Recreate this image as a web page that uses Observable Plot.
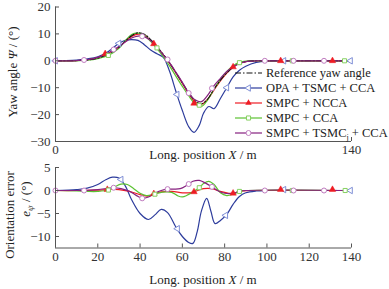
<!DOCTYPE html>
<html><head><meta charset="utf-8">
<script src="https://cdn.jsdelivr.net/npm/d3@7"></script>
<script src="https://cdn.jsdelivr.net/npm/@observablehq/plot@0.6"></script>
<style>
body{margin:0;background:#fff}
#wrap{position:relative;width:389px;height:289px;font-family:"Liberation Serif","Times New Roman",serif}
#wrap svg{position:absolute;left:0;top:0;overflow:visible}
</style></head><body><div id="wrap"></div>
<script>
// ---------- data (x = longitudinal position in m) ----------
const yawTicks = [-30, -20, -10, 0, 10, 20];
const errTicks = [-10, -5, 0, 5];
const xTicksTop = [0, 140];
const xTicksBottom = [0, 20, 40, 60, 80, 100, 120, 140];

const seriesNames = ["Reference yaw angle", "OPA + TSMC + CCA", "SMPC + NCCA", "SMPC + CCA", "SMPC + TSMC_j + CCA"];

// Yaw angle (deg)
const yawRef = [[0,0],[5,0],[10,0.1],[15,0.3],[20,1],[25,2.5],[30,5],[33,7.3],[36,9.3],[39,10.4],[42,9.9],[45,7.9],[48,5.3],[51,2.4],[54,-0.8],[57,-4.5],[60,-8.2],[63,-11.8],[66,-14.8],[69,-16],[72,-14.2],[75,-10.5],[78,-7.2],[81,-4.5],[84,-2.4],[87,-1],[90,-0.3],[95,0],[100,0],[140,0]];
const yawOPA = [[0,0],[5,0.1],[10,0.3],[15,0.7],[20,1.5],[25,3.5],[30,6.5],[33,7.6],[36,7.9],[39,7.6],[42,6],[45,4],[48,2.6],[51,1.3],[54,-4],[57,-11.5],[60,-18.5],[63,-24.5],[65.5,-26.6],[68,-24],[70,-19.5],[72.5,-17],[75,-17.8],[78,-14],[81,-10],[84,-6],[87,-3.5],[90,-2],[95,-0.6],[100,-0.1],[110,0],[140,0]];
const yawNCCA = [[0,0],[5,0],[10,0.1],[15,0.4],[20,1.2],[25,2.8],[30,5],[33,7.2],[36,9],[39,9.9],[42,9.6],[45,7.5],[48,5],[51,2.2],[54,-1],[57,-4.6],[60,-8.4],[63,-12.3],[66,-15.3],[69,-16.2],[72,-14.3],[75,-10.8],[78,-7.5],[81,-4.6],[84,-2.3],[87,-1],[90,-0.3],[95,0],[100,0],[140,0]];
const yawCCA = [[0,0],[5,0],[10,0],[15,0.2],[20,0.8],[25,2],[30,4.6],[33,7.5],[36,9.8],[39,10.3],[42,9.5],[45,7.2],[48,4.5],[51,1.5],[54,-2],[57,-5.8],[60,-9.5],[63,-13],[66,-16],[69,-17],[72,-14.5],[75,-10.5],[78,-7],[81,-4],[84,-1.8],[87,-0.6],[90,-0.1],[95,0],[100,0],[140,0]];
const yawTSMC = [[0,0],[5,0],[10,0.1],[15,0.4],[20,1.3],[25,2.9],[30,5.3],[33,7],[36,8.5],[39,9.2],[42,9],[45,7.5],[48,5],[51,2.2],[54,-0.8],[57,-4.3],[60,-8],[63,-12],[66,-14.5],[69,-15.2],[72,-12.8],[75,-9.2],[78,-6.5],[81,-4],[84,-2.2],[87,-1],[90,-0.3],[95,0],[100,0],[140,0]];

const yawOPAMarks = [[0,0],[30,6.5],[57.5,-12.5],[81,-10],[108,0],[139.5,0]];
const yawNCCAMarks = [[23.5,2.6],[46.5,6.3],[65.5,-15.8],[84,-2.3],[106.5,0],[131,0]];
const yawCCAMarks = [[25,2],[48,4.8],[68,-16.5],[87,-0.7],[112,0],[136.7,0]];
const yawTSMCMarks = [[0,0],[13.5,0.3],[27.5,4.2],[41,9.1],[53,0.5],[63,-12],[74,-10.2],[99,0],[112.6,0],[127,0]];

// Orientation error (deg)
const errOPA = [[0,0],[10,0.2],[15,0.5],[20,1.3],[24,2.4],[27,2.9],[30,2.7],[33,1],[36,-2],[40,-5],[44,-6.3],[47,-5.3],[50,-4.1],[53,-4.8],[57,-8],[60,-10],[63,-11.3],[65,-11.5],[67,-9],[69,-4.5],[71.5,-1.7],[73.5,-4.5],[75.5,-7.2],[78,-6.5],[81,-5.2],[84,-3],[87,-1.3],[90,-0.5],[95,-0.1],[100,0],[140,0]];
const errNCCA = [[0,0],[10,0],[20,0.1],[25,0.2],[30,0.2],[35,-0.2],[40,-0.9],[44,-1.2],[47,-0.7],[50,-0.3],[55,-0.2],[60,-0.5],[63,-0.5],[66,-0.2],[70,0.4],[74,0.4],[78,-0.2],[82,-0.6],[85,-0.5],[88,-0.1],[92,0],[140,0]];
const errCCA = [[0,0],[10,-0.1],[15,-0.2],[20,-0.2],[25,0.1],[28,0.8],[31,1.4],[34,1.3],[37,0.4],[40,-0.6],[43,-1.1],[46,-0.9],[49,-0.5],[52,-0.3],[55,-0.4],[58,-1.2],[60,-1.4],[62,-1.1],[65,-0.3],[68,0.6],[70,1.5],[72.5,2],[75,1.3],[78,-0.5],[81,-1.1],[84,-0.8],[87,-0.2],[90,0],[140,0]];
const errTSMC = [[0,0],[10,0],[13.5,0],[20,0.2],[27.5,0.6],[31,0.4],[35,-0.2],[38,-1],[41,-1.7],[44,-1.4],[47,-0.6],[50,0],[53,0.3],[56,0.3],[59,0.4],[62,1.1],[65,2],[68,2.2],[71,1.6],[74,0.8],[77,-0.1],[80,-0.6],[84,-0.6],[87,-0.2],[90,0],[140,0]];

const errOPAMarks = [[31,2.4],[57.7,-8.3],[80.5,-5.4],[108,0.2],[139.5,0]];
const errNCCAMarks = [[24.5,0.2],[46.5,-0.7],[65.5,-0.3],[84,-0.6],[106.5,0.2],[131,0.2]];
const errCCAMarks = [[25,0.1],[47,-0.8],[68,0.6],[87,-0.2],[112,0],[137,0]];
const errTSMCMarks = [[0,0],[13.5,0],[27.5,0.6],[41,-1.7],[53,0.3],[63,1.4],[74,0.8],[99,0],[112.6,0],[127,0]];

// ---------- styles ----------
const C = {ref:"#111", opa:"#2d3c9c", ncca:"#ee1c24", cca:"#5cc232", tsmc:"#86217f",
           opaM:"#7f8fd6", ccaM:"#86d060", tsmcM:"#c07cc0"};
const FONT = "Liberation Serif, Times New Roman, serif";
const X = d => d[0], Y = d => d[1];
const lw = 1.2, curve = "catmull-rom";

function seriesMarks(ref, opa, ncca, cca, tsmc, opaM, nccaM, ccaM, tsmcM) {
  const m = [
    Plot.line(opa, {x: X, y: Y, stroke: C.opa, strokeWidth: lw, curve}),
    Plot.line(ncca, {x: X, y: Y, stroke: C.ncca, strokeWidth: lw, curve}),
    Plot.line(cca, {x: X, y: Y, stroke: C.cca, strokeWidth: lw, curve}),
  ];
  if (ref) m.push(Plot.line(ref, {x: X, y: Y, stroke: C.ref, strokeWidth: 1.1, strokeDasharray: "6,2,1.5,2", curve}));
  m.push(
    Plot.line(tsmc, {x: X, y: Y, stroke: C.tsmc, strokeWidth: lw, curve}),
    Plot.dot(opaM, {x: X, y: Y, symbol: "triangle", rotate: -90, r: 2.4, stroke: C.opaM, fill: "white", strokeWidth: 1}),
    Plot.dot(nccaM, {x: X, y: Y, symbol: "triangle", r: 2.4, fill: C.ncca, stroke: C.ncca, strokeWidth: 0.5}),
    Plot.dot(ccaM, {x: X, y: Y, symbol: "square", r: 2.3, stroke: C.ccaM, fill: "white", strokeWidth: 1}),
    Plot.dot(tsmcM, {x: X, y: Y, symbol: "circle", r: 2.5, stroke: C.tsmcM, fill: "white", strokeWidth: 1})
  );
  return m;
}

const baseStyle = {background: "transparent", fontFamily: FONT, fontSize: "13px", color: "#333", overflow: "visible"};

const topPlot = Plot.plot({
  width: 389, height: 289,
  marginLeft: 55, marginRight: 38, marginTop: 6.5, marginBottom: 148,
  style: baseStyle,
  x: {domain: [0, 140]},
  y: {domain: [-30, 20]},
  marks: [
    ...seriesMarks(yawRef, yawOPA, yawNCCA, yawCCA, yawTSMC, yawOPAMarks, yawNCCAMarks, yawCCAMarks, yawTSMCMarks),
    Plot.ruleX([0], {stroke: "#555"}),
    Plot.ruleY([-30], {stroke: "#555"}),
    Plot.axisY({ticks: yawTicks, tickSize: -4, tickPadding: 9, label: null, stroke: "#555"}),
    Plot.axisX({ticks: xTicksTop, tickSize: -4, tickPadding: 7, label: null, stroke: "#555"})
  ]
});

const botPlot = Plot.plot({
  width: 389, height: 289,
  marginLeft: 55, marginRight: 38, marginTop: 167, marginBottom: 41.5,
  style: baseStyle,
  x: {domain: [0, 140]},
  y: {domain: [-12.5, 5]},
  marks: [
    ...seriesMarks(null, errOPA, errNCCA, errCCA, errTSMC, errOPAMarks, errNCCAMarks, errCCAMarks, errTSMCMarks),
    Plot.ruleX([0], {stroke: "#555"}),
    Plot.ruleY([-12.5], {stroke: "#555"}),
    Plot.axisY({ticks: errTicks, tickSize: -4, tickPadding: 9, label: null, stroke: "#555"}),
    Plot.axisX({ticks: xTicksBottom, tickSize: -4, tickPadding: 8, label: null, stroke: "#555"})
  ]
});

const wrap = document.getElementById("wrap");
wrap.appendChild(topPlot);
wrap.appendChild(botPlot);

// ---------- overlay: axis titles and legend ----------
const svg = d3.select(wrap).append("svg").attr("width", 389).attr("height", 289)
  .style("font-family", FONT).style("fill", "#222");

function xTitle(y) {
  const t = svg.append("text").attr("x", 203).attr("y", y).attr("text-anchor", "middle").attr("font-size", 13);
  t.append("tspan").text("Long. position  ");
  t.append("tspan").attr("font-style", "italic").text("X");
  t.append("tspan").text(" / m");
}
xTitle(159);
xTitle(284);

const yt = svg.append("text").attr("transform", "translate(17,72) rotate(-90)").attr("text-anchor", "middle").attr("font-size", 13);
yt.append("tspan").text("Yaw angle  ");
yt.append("tspan").attr("font-style", "italic").text("Ψ");
yt.append("tspan").text(" / (°)");

svg.append("text").attr("transform", "translate(14,215) rotate(-90)").attr("text-anchor", "middle").attr("font-size", 13).text("Orientation error");
const et = svg.append("text").attr("transform", "translate(30,199) rotate(-90)").attr("text-anchor", "middle").attr("font-size", 13);
et.append("tspan").attr("font-style", "italic").text("e");
et.append("tspan").attr("font-style", "italic").attr("font-size", 9).attr("dy", 3).text("ψ");
et.append("tspan").attr("dy", -3).text(" / (°)");

// legend
const legRows = [
  {name: seriesNames[0], stroke: C.ref, dash: "6,2,1.5,2", sym: null},
  {name: seriesNames[1], stroke: C.opa, sym: "tri-left"},
  {name: seriesNames[2], stroke: C.ncca, sym: "tri"},
  {name: seriesNames[3], stroke: C.cca, sym: "square"},
  {name: seriesNames[4], stroke: C.tsmc, sym: "circle"}
];
legRows.forEach((r, i) => {
  const y = 73 + i * 15;
  svg.append("line").attr("x1", 235).attr("x2", 262).attr("y1", y).attr("y2", y)
    .attr("stroke", r.stroke).attr("stroke-width", 1.2).attr("stroke-dasharray", r.dash || null);
  const g = svg.append("g").attr("transform", `translate(248.5,${y})`);
  if (r.sym === "tri-left") g.append("path").attr("d", d3.symbol(d3.symbolTriangle, 18)()).attr("transform", "rotate(-90)").attr("fill", "white").attr("stroke", C.opaM);
  if (r.sym === "tri") g.append("path").attr("d", d3.symbol(d3.symbolTriangle, 18)()).attr("fill", C.ncca);
  if (r.sym === "square") g.append("path").attr("d", d3.symbol(d3.symbolSquare, 17)()).attr("fill", "white").attr("stroke", C.ccaM);
  if (r.sym === "circle") g.append("circle").attr("r", 2.5).attr("fill", "white").attr("stroke", C.tsmcM);
  const t = svg.append("text").attr("x", 266).attr("y", y + 4.3).attr("font-size", 12.5);
  if (r.name.includes("_j")) {
    const [a, b] = r.name.split("_j");
    t.append("tspan").text(a);
    t.append("tspan").attr("font-size", 8).attr("dy", 3).text("j");
    t.append("tspan").attr("dy", -3).text(b);
  } else t.text(r.name);
});
</script></body></html>
